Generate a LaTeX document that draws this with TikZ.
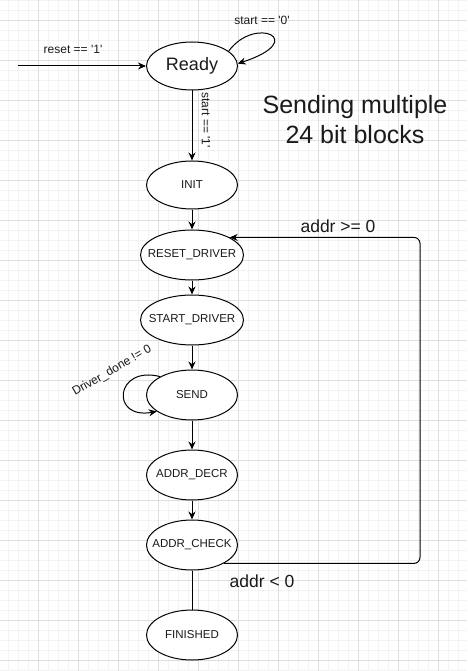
\documentclass[tikz,border=0pt]{standalone}
\usepackage{fontspec}
\setmainfont{Liberation Sans}
\usetikzlibrary{arrows.meta,positioning,shapes.geometric}
\definecolor{fsmgridmajor}{HTML}{DEDEDE}
\definecolor{fsmgridminor}{HTML}{F3F3F3}
\definecolor{fsmink}{HTML}{1A1A1A}
\newcommand{\stname}[1]{\makebox[0pt]{#1}}
\newcommand{\sq}{\textquotesingle}

\begin{document}
\begin{tikzpicture}[x=1pt, y=-1pt,
  every node/.style={font=\fontsize{11.5}{13}\selectfont, text=fsmink},
  state/.style={ellipse, draw, line width=1pt, fill=white, inner sep=0pt,
                minimum width=91pt, minimum height=50pt},
  widestate/.style={state, minimum width=103pt},
  cond/.style={font=\fontsize{12}{14}\selectfont, inner sep=0pt},
  bigcond/.style={font=\fontsize{17.5}{20}\selectfont, inner sep=0pt, anchor=base},
  arrow/.style={-{Stealth[length=8pt,width=7pt]}, line width=1pt}
]
\fill[white] (0,0) rectangle (467,671);
\useasboundingbox (0,0) rectangle (467,671);
% background grid
\foreach \gx in {8,18,...,458} \draw[fsmgridminor, line width=0.8pt] (\gx,0) -- (\gx,671);
\foreach \gy in {0,10,...,670} \draw[fsmgridminor, line width=0.8pt] (0,\gy) -- (467,\gy);
\foreach \gx in {38,78,...,438} \draw[fsmgridmajor, line width=0.8pt] (\gx,0) -- (\gx,671);
\foreach \gy in {20,60,...,660} \draw[fsmgridmajor, line width=0.8pt] (0,\gy) -- (467,\gy);

% states
\node[state, minimum height=48pt, font=\fontsize{18}{20}\selectfont] (rdy) at (192,66) {\stname{Ready}};
\node[state, minimum height=48pt] (ini) at (192,185) {\stname{INIT}};
\node[widestate] (rst) at (192,255) {\stname{RESET\_DRIVER}};
\node[widestate] (sdr) at (192,320) {\stname{START\_DRIVER}};
\node[state] (snd) at (192,395) {\stname{SEND}};
\node[state] (dec) at (192,475) {\stname{ADDR\_DECR}};
\node[state] (chk) at (192,545) {\stname{ADDR\_CHECK}};
\node[state] (fin) at (192,635) {\stname{FINISHED}};

\node[font=\fontsize{25}{30}\selectfont, align=center] (title) at (355,120)
  {Sending multiple\\24 bit blocks};

% transitions
\coordinate (rstin) at (18,66);
\draw[arrow] (rstin) -- (rdy.west);
\node[cond, anchor=base] (lreset) at (73,54) {reset == \sq1\sq};
\draw[arrow] (rdy.22) .. controls (255,15) and (310,40) .. (rdy.3);
\node[cond, anchor=base] (lidle) at (262,25) {start == \sq0\sq};
\draw[arrow] (rdy) -- (ini);
\node[cond, rotate=-90] (lgo) at (206,120) {start == \sq1\sq};
\draw[arrow] (ini) -- (rst);
\draw[arrow] (rst) -- (sdr);
\draw[arrow] (sdr) -- (snd);
\draw[arrow] (snd.150) .. controls (115,365) and (110,420) .. (snd.205);
\node[cond, rotate=30] (lwait) at (112,371) {Driver\_done != 0};
\draw[arrow] (snd) -- (dec);
\draw[arrow] (dec) -- (chk);
\draw[line width=1pt] (chk) -- (fin);
\coordinate (back) at (420,400);
\draw[arrow, rounded corners=6pt] (chk.-30) -| (back) |- (rst.25);
\node[bigcond] (lge) at (338,232) {addr >= 0};
\node[bigcond] (llt) at (262,587) {addr < 0};
\end{tikzpicture}
\end{document}
